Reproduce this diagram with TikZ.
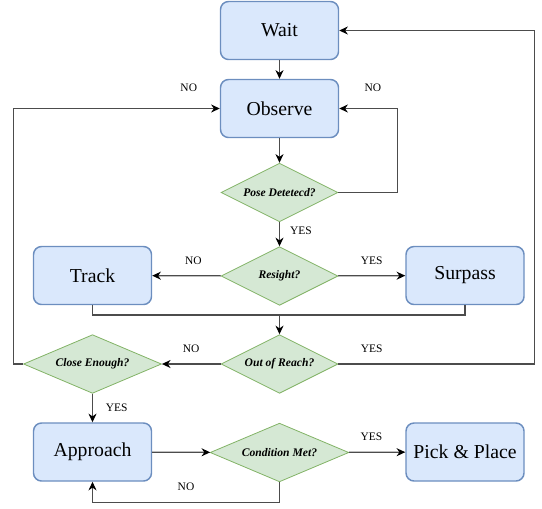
\documentclass[tikz,border=0pt]{standalone}
\usepackage{fontspec}
\setmainfont{Liberation Serif}
\usetikzlibrary{shapes.geometric,arrows.meta}
\definecolor{boxfill}{HTML}{DAE8FC}
\definecolor{boxline}{HTML}{6C8EBF}
\definecolor{decfill}{HTML}{D5E8D4}
\definecolor{decline}{HTML}{82B366}

\def\colL{92.5}
\def\colM{279.5}
\def\colR{465}

\begin{document}
\begin{tikzpicture}[x=0.75pt, y=-0.75pt]
			\tikzset{box/.style={draw=boxline, fill=boxfill, line width=1.1pt, rounded corners=6pt, minimum width=88.5pt, minimum height=43.5pt, font=\fontsize{14.8}{16}\selectfont}}
			\tikzset{decision/.style={diamond, shape aspect=2, draw=decline, fill=decfill, line width=0.6pt, inner sep=0pt, minimum width=87.75pt, minimum height=44pt, font=\fontsize{8.7}{10}\selectfont\bfseries\itshape}}
			\tikzset{edge/.style={draw=black!70, line width=0.9pt, -{Stealth[black, length=6.5pt, width=6pt]}}}
			\tikzset{line/.style={draw=black!70, line width=0.9pt}}
			\tikzset{lbl/.style={font=\fontsize{8.6}{10}\selectfont, inner sep=0pt}}
			\useasboundingbox (0,0) rectangle (542,508);
			\node[box](wait) at (\colM,30.5){Wait};
			\node[box](observe) at (\colM,108.5){Observe};
			\node[decision](pose) at (\colM,192.5){Pose Detetecd?};
			\node[decision](resight) at (\colM,276){Resight?};
			\node[box](track) at (\colL,275.5){Track};
			\node[box](surpass) at (\colR,275.5){Surpass};
			\coordinate(join) at (\colM,315);
			\node[decision](reach) at (\colM,364){Out of Reach?};
			\node[decision, minimum width=103.5pt](close) at (\colL,364){Close Enough?};
			\node[box](approach) at (\colL,452){Approach};
			\node[decision, minimum width=104pt](cond) at (\colM,452.5){Condition Met?};
			\node[box](pick) at (\colR,452){Pick \& Place};
			\draw[edge](wait)--(observe);
			\draw[edge](observe)--(pose);
			\draw[edge](pose.east)--++(59,0)|-node[lbl, pos=0.71, above=12pt]{NO}(observe.east);
			\draw[edge](pose)--node[lbl, right=7.5pt, pos=0.35]{YES}(resight);
			\draw[edge](resight)--node[lbl, above=8pt, pos=0.4]{NO}(track);
			\draw[edge](resight)--node[lbl, above=8pt]{YES}(surpass);
			\draw[line](track.south)|-(join)-|(surpass.south);
			\draw[edge](join)--(reach);
			\draw[edge](reach)--node[lbl, above=8pt]{NO}(close);
			\draw[edge](reach.east)--++(196,0)node[lbl, pos=0.17, above=8pt]{YES}|-(wait.east);
			\draw[edge](close.west)--++(-10,0)|-node[lbl, pos=0.925, above=12pt]{NO}(observe.west);
			\draw[edge](close)--node[lbl, right=9.5pt]{YES}(approach);
			\draw[edge](approach)--(cond);
			\draw[edge](cond)--node[lbl, above=8pt, pos=0.4]{YES}(pick);
			\draw[edge](cond.south)--++(0,20)-|node[lbl, pos=0.25, above=8pt]{NO}(approach.south);
		\end{tikzpicture}
\end{document}
